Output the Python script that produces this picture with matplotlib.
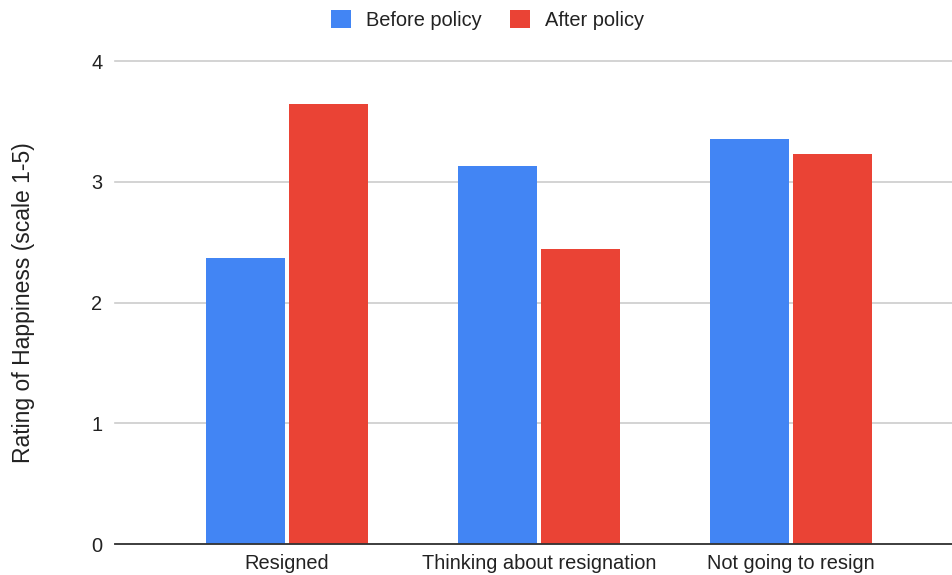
import matplotlib

matplotlib.use("Agg")
import matplotlib.pyplot as plt
import numpy as np

categories = ["Resigned", "Thinking about resignation", "Not going to resign"]
before_policy = [2.37, 3.13, 3.35]
after_policy = [3.64, 2.44, 3.23]
series_names = ["Before policy", "After policy"]
y_ticks = [0, 1, 2, 3, 4]

BLUE = "#4285f4"
RED = "#ea4335"
TEXT = "#222222"

plt.rcParams["font.family"] = ["Liberation Sans", "DejaVu Sans"]

fig = plt.figure(figsize=(9.52, 5.75), dpi=100)
ax = fig.add_axes([0.1208, 0.0539, 0.8792, 0.8400])

x = np.arange(len(categories))
width = 0.3135
offset = 0.1647
b1 = ax.bar(x - offset, before_policy, width, color=BLUE, label=series_names[0], zorder=3)
b2 = ax.bar(x + offset, after_policy, width, color=RED, label=series_names[1], zorder=3)

ax.set_xlim(-0.6825, 2.639)
ax.set_ylim(0, 4)
ax.set_yticks(y_ticks)
ax.set_xticks(x)
ax.set_xticklabels(categories)
ax.tick_params(axis="both", length=0, labelsize=14.4, colors=TEXT)
ax.tick_params(axis="y", pad=9)
ax.tick_params(axis="x", pad=7)

ax.grid(axis="y", color="#cccccc", linewidth=1.2, zorder=0)
# keep the top gridline from being cut in half at the axes edge
for line in ax.get_ygridlines():
    line.set_clip_on(False)
for side in ["top", "right", "left"]:
    ax.spines[side].set_visible(False)
ax.spines["bottom"].set_color("#333333")
ax.spines["bottom"].set_linewidth(1.3)
ax.spines["bottom"].set_zorder(4)

ax.set_ylabel("Rating of Happiness (scale 1-5)", fontsize=16.5, color=TEXT)
ax.yaxis.set_label_coords(-0.0956, 0.5)

fig.legend(
    handles=[b1, b2],
    loc="center",
    bbox_to_anchor=(0.512, 0.965),
    ncol=2,
    frameon=False,
    fontsize=14.4,
    handlelength=1.0,
    handleheight=1.0,
    handletextpad=0.75,
    columnspacing=1.4,
    labelcolor=TEXT,
)

fig.savefig("out.png", dpi=100, facecolor="white")
